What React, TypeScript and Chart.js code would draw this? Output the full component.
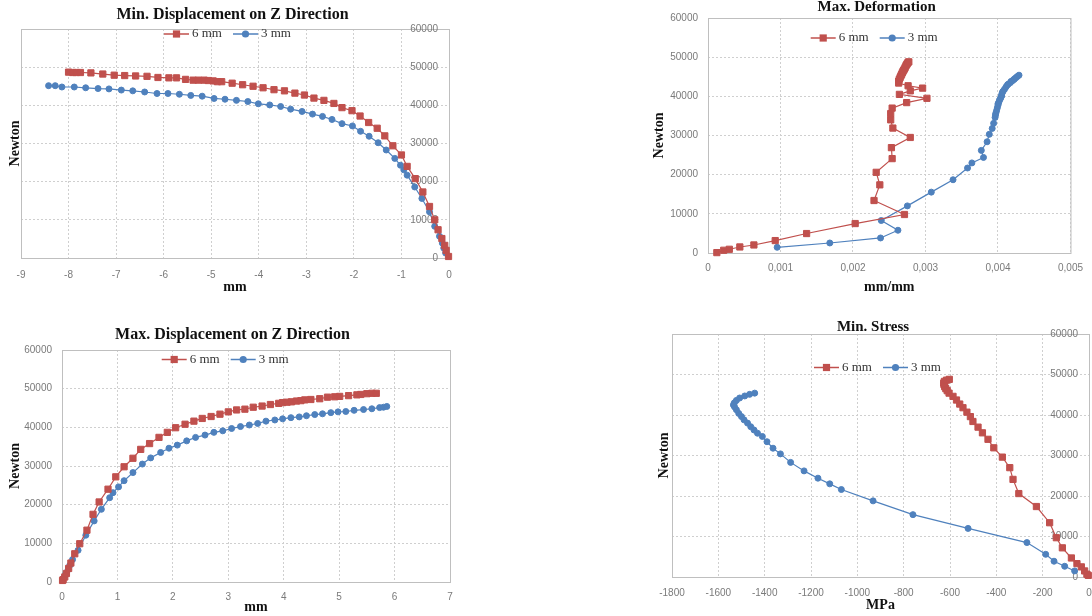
import React, { useEffect, useRef } from 'react';
import { Chart, registerables } from 'chart.js';
Chart.register(...registerables);

const RED = '#C0504D';
const BLUE = '#4F81BD';
const GRID = '#cfcfcf';
const FRAME = '#bfbfbf';
const TICK = '#7a7a7a';
const SERIF = '"Liberation Serif", "Times New Roman", serif';
const SANS = '"Liberation Sans", Arial, sans-serif';

// ---------- data (x, Newton) ----------
const minDisp6mm: number[][] = [
  [-8.0, 48700], [-7.91, 48600], [-7.84, 48600], [-7.75, 48600], [-7.53, 48500], [-7.28, 48200],
  [-7.04, 47900], [-6.82, 47800], [-6.59, 47700], [-6.35, 47600], [-6.12, 47300], [-5.89, 47200],
  [-5.73, 47200], [-5.54, 46800], [-5.38, 46600], [-5.27, 46600], [-5.15, 46600], [-5.06, 46500],
  [-4.96, 46400], [-4.87, 46200], [-4.78, 46200], [-4.56, 45800], [-4.34, 45400], [-4.12, 45000],
  [-3.91, 44600], [-3.68, 44100], [-3.46, 43800], [-3.24, 43200], [-3.04, 42700], [-2.84, 41900],
  [-2.63, 41300], [-2.42, 40500], [-2.25, 39400], [-2.04, 38600], [-1.87, 37200], [-1.69, 35500],
  [-1.51, 34000], [-1.35, 32000], [-1.18, 29400], [-1.0, 27000], [-0.88, 24000], [-0.71, 20800],
  [-0.55, 17300], [-0.41, 13500], [-0.3, 10000], [-0.23, 7400], [-0.15, 5100], [-0.09, 3300],
  [-0.06, 2000], [-0.01, 400],
];
const minDisp3mm: number[][] = [
  [-8.42, 45150], [-8.28, 45150], [-8.14, 44800], [-7.88, 44800], [-7.64, 44600], [-7.38, 44400],
  [-7.15, 44300], [-6.89, 44000], [-6.65, 43800], [-6.4, 43500], [-6.14, 43100], [-5.91, 43100],
  [-5.67, 42900], [-5.43, 42600], [-5.19, 42400], [-4.94, 41800], [-4.71, 41600], [-4.47, 41300],
  [-4.23, 41000], [-4.01, 40400], [-3.77, 40100], [-3.54, 39700], [-3.33, 39000], [-3.09, 38400],
  [-2.87, 37700], [-2.66, 37100], [-2.46, 36300], [-2.25, 35200], [-2.03, 34600], [-1.86, 33200],
  [-1.68, 31900], [-1.49, 30200], [-1.32, 28300], [-1.14, 26100], [-1.02, 24300], [-0.95, 23100],
  [-0.88, 21700], [-0.72, 18600], [-0.57, 15600], [-0.41, 12100], [-0.3, 8300], [-0.2, 5700],
  [-0.14, 3900], [-0.11, 2600], [-0.07, 1300],
];
const deform6mm: number[][] = [
  [0.000122, 100], [0.000217, 700], [0.000294, 950], [0.000439, 1540], [0.000633, 2050],
  [0.000927, 3170], [0.00136, 4970], [0.00203, 7520], [0.00271, 9830], [0.00229, 13400],
  [0.00237, 17400], [0.00232, 20600], [0.00254, 24100], [0.00253, 26900], [0.00279, 29500],
  [0.00255, 31900], [0.00252, 34000], [0.00252, 35600], [0.00254, 37000], [0.00274, 38400],
  [0.00302, 39500], [0.00264, 40500], [0.00279, 41400], [0.00296, 42100], [0.00276, 42700],
  [0.00263, 43400], [0.00263, 43900], [0.00264, 44400], [0.00265, 44800], [0.00266, 45200],
  [0.00267, 45600], [0.00268, 46000], [0.00269, 46400], [0.0027, 46700], [0.00271, 47000],
  [0.00272, 47400], [0.00273, 47800], [0.00274, 48100], [0.00275, 48400], [0.00276, 48700],
  [0.00277, 48800],
];
const deform3mm: number[][] = [
  [0.000954, 1460], [0.00168, 2560], [0.00238, 3840], [0.00262, 5810], [0.00239, 8290],
  [0.00275, 12030], [0.00308, 15540], [0.00338, 18700], [0.00358, 21700], [0.00364, 23000],
  [0.0038, 24400], [0.00377, 26200], [0.00385, 28400], [0.00388, 30300], [0.00392, 31800],
  [0.00394, 33100], [0.00396, 34600], [0.003965, 35200], [0.00397, 35700], [0.00398, 36300],
  [0.00399, 37000], [0.004, 37700], [0.004, 38100], [0.00401, 38400], [0.00402, 39000],
  [0.00403, 39300], [0.00404, 39700], [0.00405, 40100], [0.00405, 40400], [0.00406, 41000],
  [0.00407, 41300], [0.00409, 41800], [0.00411, 42400], [0.00413, 42900], [0.00414, 43100],
  [0.00417, 43500], [0.00418, 43800], [0.0042, 44000], [0.00422, 44300], [0.00423, 44500],
  [0.00425, 44800], [0.00427, 45100], [0.00429, 45400],
];
const maxDisp6mm: number[][] = [
  [0.01, 400], [0.02, 600], [0.05, 1300], [0.08, 2200], [0.12, 3500], [0.16, 4900], [0.23, 7300],
  [0.32, 9900], [0.45, 13400], [0.56, 17500], [0.67, 20700], [0.83, 24000], [0.97, 27200],
  [1.12, 29800], [1.28, 32000], [1.42, 34300], [1.58, 35800], [1.75, 37400], [1.9, 38700],
  [2.05, 39900], [2.22, 40800], [2.38, 41600], [2.53, 42300], [2.69, 42800], [2.85, 43400],
  [3.0, 44000], [3.15, 44500], [3.3, 44700], [3.45, 45200], [3.61, 45500], [3.76, 45900],
  [3.91, 46200], [3.98, 46400], [4.06, 46500], [4.14, 46600], [4.23, 46800], [4.31, 46900],
  [4.38, 47100], [4.49, 47200], [4.65, 47400], [4.79, 47800], [4.92, 47900], [5.01, 48000],
  [5.17, 48200], [5.32, 48400], [5.39, 48500], [5.5, 48700], [5.59, 48800], [5.67, 48800],
];
const maxDisp3mm: number[][] = [
  [0.04, 1300], [0.07, 2200], [0.11, 3200], [0.14, 4300], [0.19, 5800], [0.29, 8200],
  [0.43, 12100], [0.58, 15800], [0.71, 18800], [0.86, 21800], [0.92, 23100], [1.02, 24600],
  [1.12, 26200], [1.28, 28300], [1.45, 30500], [1.6, 32100], [1.78, 33500], [1.93, 34600],
  [2.08, 35400], [2.25, 36500], [2.41, 37400], [2.58, 38000], [2.74, 38700], [2.9, 39100],
  [3.06, 39700], [3.22, 40200], [3.38, 40600], [3.53, 41000], [3.68, 41600], [3.84, 41900],
  [3.98, 42200], [4.13, 42500], [4.28, 42700], [4.41, 43000], [4.56, 43300], [4.7, 43500],
  [4.85, 43800], [4.98, 44000], [5.12, 44100], [5.27, 44400], [5.44, 44600], [5.59, 44800],
  [5.73, 45100], [5.8, 45200], [5.86, 45400],
];
const stress6mm: number[][] = [
  [-3, 400], [-9, 700], [-19, 1500], [-33, 2500], [-52, 3300], [-76, 4700], [-115, 7200],
  [-141, 9700], [-170, 13400], [-227, 17400], [-303, 20600], [-328, 24100], [-342, 27000],
  [-374, 29600], [-411, 31900], [-436, 34000], [-460, 35600], [-479, 37000], [-501, 38400],
  [-512, 39600], [-527, 40700], [-544, 41800], [-558, 42700], [-572, 43700], [-587, 44600],
  [-604, 45400], [-612, 46000], [-618, 46500], [-623, 47000], [-626, 47500], [-627, 47900],
  [-624, 48300], [-615, 48600], [-603, 48800],
];
const stress3mm: number[][] = [
  [-62, 1500], [-105, 2650], [-151, 3900], [-187, 5600], [-268, 8500], [-522, 12000],
  [-760, 15400], [-932, 18800], [-1069, 21600], [-1119, 23000], [-1170, 24400], [-1230, 26200],
  [-1288, 28300], [-1332, 30400], [-1364, 31800], [-1390, 33400], [-1410, 34700], [-1431, 35500],
  [-1446, 36300], [-1460, 37100], [-1474, 38000], [-1489, 38800], [-1500, 39600], [-1512, 40400],
  [-1522, 41300], [-1530, 42000], [-1535, 42500], [-1531, 43000], [-1522, 43600], [-1508, 44200],
  [-1486, 44700], [-1465, 45100], [-1443, 45400],
];

const seriesNames = ['6 mm', '3 mm'];
const yAxisTitle = 'Newton';

// ---------- panels ----------
type PanelCfg = {
  left: number; top: number; w: number; h: number;
  area: { l: number; t: number; r: number; b: number };
  yRight: boolean;
  xMin: number; xMax: number; xStep: number; xPad: number;
  fmtX: (v: number) => string;
  red: number[][]; blue: number[][];
  title: { text: string; x: number; y: number; size: number };
  xTitle: string; xTitleY: number; yTitleX: number;
  legendX: number; legendY: number;
};

const plain = (v: number) => String(v);
const comma = (v: number) => (v === 0 ? '0' : Number(v).toFixed(3).replace('.', ','));

const panels: PanelCfg[] = [
  {
    left: 0, top: 0, w: 470, h: 300, area: { l: 21, t: 29, r: 449, b: 258 }, yRight: true,
    xMin: -9, xMax: 0, xStep: 1, xPad: 11, fmtX: plain, red: minDisp6mm, blue: minDisp3mm,
    title: { text: 'Min. Displacement on Z Direction', x: 232.5, y: 15, size: 16 },
    xTitle: 'mm', xTitleY: 287, yTitleX: 15, legendX: 164, legendY: 34,
  },
  {
    left: 640, top: 0, w: 452, h: 300, area: { l: 68, t: 18, r: 437, b: 253 }, yRight: false,
    xMin: 0, xMax: 0.005, xStep: 0.001, xPad: 9, fmtX: comma, red: deform6mm, blue: deform3mm,
    title: { text: 'Max. Deformation', x: 236.7, y: 7, size: 15 },
    xTitle: 'mm/mm', xTitleY: 287, yTitleX: 19, legendX: 170.7, legendY: 38,
  },
  {
    left: 0, top: 310, w: 470, h: 306, area: { l: 62, t: 40, r: 450, b: 272 }, yRight: false,
    xMin: 0, xMax: 7, xStep: 1, xPad: 9, fmtX: plain, red: maxDisp6mm, blue: maxDisp3mm,
    title: { text: 'Max. Displacement on Z Direction', x: 232.5, y: 25, size: 16 },
    xTitle: 'mm', xTitleY: 297, yTitleX: 15, legendX: 161.7, legendY: 49.5,
  },
  {
    left: 640, top: 310, w: 470, h: 306, area: { l: 32, t: 24, r: 449, b: 267 }, yRight: true,
    xMin: -1800, xMax: 0, xStep: 200, xPad: 10, fmtX: plain, red: stress6mm, blue: stress3mm,
    title: { text: 'Min. Stress', x: 233, y: 17, size: 15 },
    xTitle: 'MPa', xTitleY: 295, yTitleX: 24, legendX: 174, legendY: 57.5,
  },
];

// ---------- plugin: frame, mirrored y labels, titles, legend ----------
const decorPlugin = {
  id: 'decor',
  beforeDatasetsDraw(chart: any, _a: any, o: any) {
    const ctx = chart.ctx;
    const a = chart.chartArea;
    ctx.save();
    ctx.setLineDash([]);
    ctx.strokeStyle = FRAME;
    ctx.lineWidth = 1;
    ctx.strokeRect(a.left + 0.5, a.top + 0.5, a.right - a.left, a.bottom - a.top);
    if (o.yRight) {
      const ys = chart.scales.y;
      ctx.font = `10px ${SANS}`;
      ctx.fillStyle = TICK;
      ctx.textAlign = 'right';
      ctx.textBaseline = 'middle';
      ys.ticks.forEach((t: any) => {
        ctx.fillText(String(t.value), a.right - 11, ys.getPixelForValue(t.value));
      });
    }
    ctx.restore();
  },
  afterDraw(chart: any, _a: any, o: any) {
    const ctx = chart.ctx;
    const a = chart.chartArea;
    ctx.save();
    ctx.fillStyle = '#111';
    ctx.textAlign = 'center';
    ctx.textBaseline = 'middle';
    ctx.font = `bold ${o.title.size}px ${SERIF}`;
    ctx.fillText(o.title.text, o.title.x, o.title.y);
    ctx.font = `bold 14px ${SERIF}`;
    ctx.fillText(o.xTitle, (a.left + a.right) / 2, o.xTitleY);
    ctx.save();
    ctx.translate(o.yTitleX, (a.top + a.bottom) / 2);
    ctx.rotate(-Math.PI / 2);
    ctx.fillText(yAxisTitle, 0, 0);
    ctx.restore();

    const item = (x0: number, color: string, shape: string, label: string) => {
      const y = o.legendY;
      ctx.strokeStyle = color;
      ctx.lineWidth = 1.5;
      ctx.beginPath();
      ctx.moveTo(x0, y);
      ctx.lineTo(x0 + 25, y);
      ctx.stroke();
      ctx.fillStyle = color;
      const cx = x0 + 12.5;
      if (shape === 'rect') {
        ctx.fillRect(cx - 3.6, y - 3.6, 7.2, 7.2);
      } else {
        ctx.beginPath();
        ctx.arc(cx, y, 3.6, 0, Math.PI * 2);
        ctx.fill();
      }
      ctx.fillStyle = '#333';
      ctx.textAlign = 'left';
      ctx.font = `13px ${SERIF}`;
      ctx.fillText(label, x0 + 28, y);
    };
    item(o.legendX, RED, 'rect', seriesNames[0]);
    item(o.legendX + 69, BLUE, 'circle', seriesNames[1]);
    ctx.restore();
  },
};

function dataset(label: string, pts: number[][], color: string, shape: string, r: number) {
  return {
    label,
    data: pts.map(([x, y]) => ({ x, y })),
    showLine: true,
    borderColor: color,
    backgroundColor: color,
    borderWidth: 1.2,
    pointStyle: shape,
    pointRadius: r,
    pointBorderWidth: 1,
    pointBorderColor: color,
    pointBackgroundColor: color,
    fill: false,
    tension: 0,
    clip: 8,
  };
}

function buildConfig(p: PanelCfg): any {
  const yW = p.yRight ? 0 : p.area.l;
  const padL = p.yRight ? p.area.l : 0;
  const padR = p.w - p.area.r;
  const xH = p.h - p.area.b;
  const tickFont = { family: SANS, size: 10 };
  return {
    type: 'scatter',
    data: {
      datasets: [
        dataset(seriesNames[0], p.red, RED, 'rect', 4.4),
        dataset(seriesNames[1], p.blue, BLUE, 'circle', 3),
      ],
    },
    options: {
      responsive: false,
      animation: false,
      devicePixelRatio: 1,
      layout: { padding: { left: padL, right: padR, top: p.area.t, bottom: 0 } },
      plugins: {
        legend: { display: false },
        title: { display: false },
        tooltip: { enabled: false },
        decor: p,
      },
      scales: {
        x: {
          type: 'linear',
          position: 'bottom',
          min: p.xMin,
          max: p.xMax,
          ticks: {
            stepSize: p.xStep,
            padding: p.xPad,
            color: TICK,
            font: tickFont,
            maxRotation: 0,
            autoSkip: false,
            callback: (v: any) => p.fmtX(Number(v)),
          },
          grid: { color: GRID, lineWidth: 1, drawTicks: false },
          border: { display: false, dash: [2, 2] },
          afterFit: (s: any) => { s.height = xH; },
        },
        y: {
          type: 'linear',
          position: p.yRight ? 'right' : 'left',
          min: 0,
          max: 60000,
          ticks: {
            display: !p.yRight,
            stepSize: 10000,
            padding: 10,
            color: TICK,
            font: tickFont,
            callback: (v: any) => String(v),
          },
          grid: { color: GRID, lineWidth: 1, drawTicks: false },
          border: { display: false, dash: [2, 2] },
          afterFit: (s: any) => { s.width = yW; },
        },
      },
    },
    plugins: [decorPlugin],
  };
}

function Panel({ cfg }: { cfg: PanelCfg }) {
  const ref = useRef<HTMLCanvasElement>(null);
  useEffect(() => {
    if (!ref.current) return;
    const chart = new Chart(ref.current, buildConfig(cfg));
    return () => chart.destroy();
  }, [cfg]);
  return (
    <canvas
      ref={ref}
      width={cfg.w}
      height={cfg.h}
      style={{ position: 'absolute', left: cfg.left, top: cfg.top, width: cfg.w, height: cfg.h }}
    />
  );
}

export default function App() {
  return (
    <div
      style={{
        position: 'absolute',
        left: 0,
        top: 0,
        width: 1092,
        height: 616,
        overflow: 'hidden',
        background: '#ffffff',
      }}
    >
      {panels.map((p, i) => (
        <Panel key={i} cfg={p} />
      ))}
    </div>
  );
}
